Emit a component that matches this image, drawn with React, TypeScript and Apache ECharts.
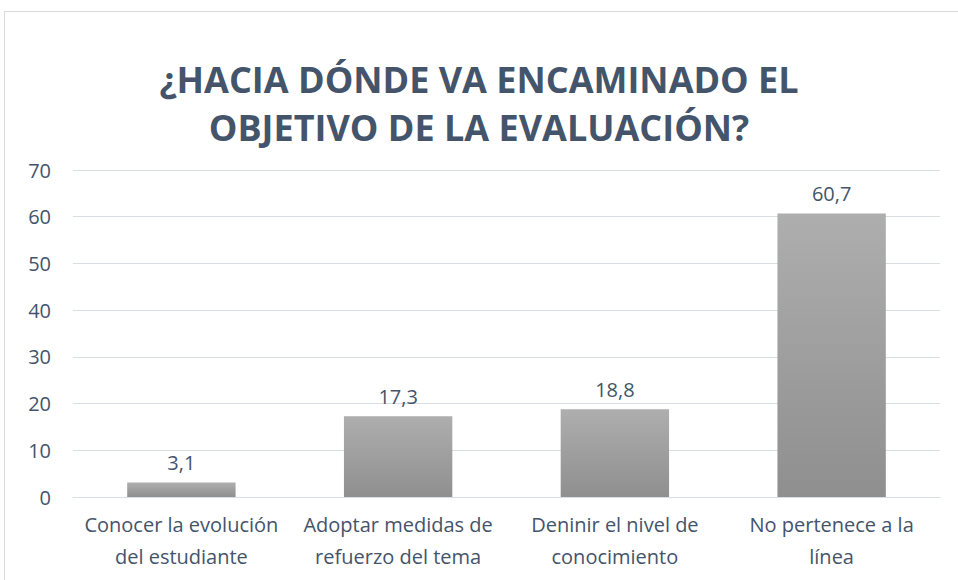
import React, { useEffect, useRef } from "react";
import * as echarts from "echarts";

const titleLines = ["¿HACIA DÓNDE VA ENCAMINADO EL", "OBJETIVO DE LA EVALUACIÓN?"];
const categories = [
  "Conocer la evolución\ndel estudiante",
  "Adoptar medidas de\nrefuerzo del tema",
  "Deninir el nivel de\nconocimiento",
  "No pertenece a la\nlínea",
];
const values = [3.1, 17.3, 18.8, 60.7];
const yMin = 0;
const yMax = 70;
const yStep = 10;

const textColor = "#44546A";
const fontFamily = "Open Sans, Noto Sans, sans-serif";

export default function App() {
  const ref = useRef<HTMLDivElement>(null);
  useEffect(() => {
    if (!ref.current) return;
    const chart = echarts.init(ref.current, undefined, { renderer: "svg" });
    chart.setOption({
      animation: false,
      backgroundColor: "#ffffff",
      title: {
        text: titleLines.join("\n"),
        left: "center",
        top: 50,
        textStyle: {
          color: textColor,
          fontFamily,
          fontWeight: "bold",
          fontSize: 36,
          lineHeight: 48,
        },
      },
      graphic: [
        {
          type: "rect",
          shape: { x: 4.5, y: 11.5, width: 1000, height: 1000 },
          style: { fill: "none", stroke: "#D9D9D9", lineWidth: 1 },
          silent: true,
        },
      ],
      grid: { left: 73, right: 18, top: 170, bottom: 83 },
      xAxis: {
        type: "category",
        data: categories,
        axisLine: { show: true, lineStyle: { color: "#D9DEE5", width: 1 } },
        axisTick: { show: false },
        axisLabel: {
          color: textColor,
          fontFamily,
          fontSize: 20,
          lineHeight: 32,
          margin: 11,
          interval: 0,
        },
      },
      yAxis: {
        type: "value",
        min: yMin,
        max: yMax,
        interval: yStep,
        axisLine: { show: false },
        axisTick: { show: false },
        splitLine: { lineStyle: { color: "#D9DEE5", width: 1 } },
        axisLabel: {
          color: textColor,
          fontFamily,
          fontSize: 20,
          margin: 22,
        },
      },
      series: [
        {
          type: "bar",
          data: values,
          barWidth: "50%",
          itemStyle: {
            color: new echarts.graphic.LinearGradient(0, 0, 0, 1, [
              { offset: 0, color: "#AEAEAE" },
              { offset: 1, color: "#8F8F8F" },
            ]),
          },
          label: {
            show: true,
            position: "top",
            distance: 10,
            color: textColor,
            fontFamily,
            fontSize: 20,
            formatter: (p: any) => String(p.value).replace(".", ","),
          },
        },
      ],
    });
    return () => chart.dispose();
  }, []);
  return (
    <div
      ref={ref}
      style={{ position: "fixed", left: 0, top: 0, width: 958, height: 580 }}
    />
  );
}
